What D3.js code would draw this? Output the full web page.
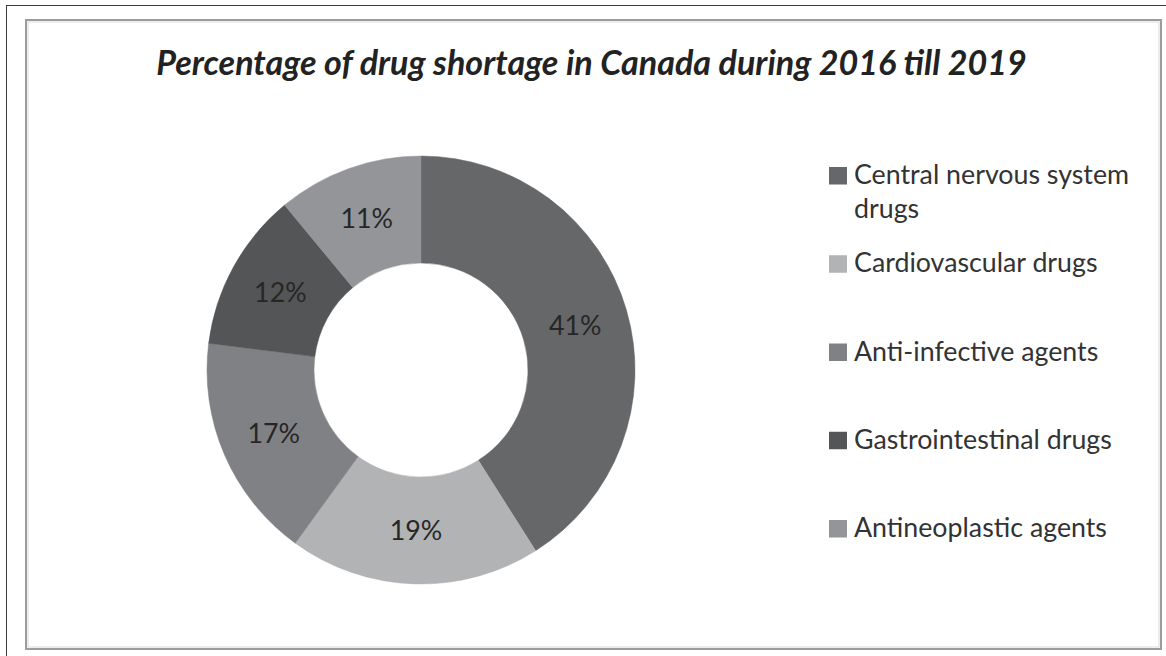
<!DOCTYPE html>
<html>
<head>
<meta charset="utf-8">
<script src="https://cdn.jsdelivr.net/npm/d3@7"></script>
<style>
  html, body { margin: 0; padding: 0; background: #fff; }
  svg { display: block; }
</style>
</head>
<body>
<svg id="chart" width="1166" height="656"></svg>
<script>
// Drug classes and their share of shortages (percent)
const categories = [
  "Central nervous system drugs",
  "Cardiovascular drugs",
  "Anti-infective agents",
  "Gastrointestinal drugs",
  "Antineoplastic agents"
];
const shares = [41, 19, 17, 12, 11];
const legendLines = [
  ["Central nervous system", "drugs"],
  ["Cardiovascular drugs"],
  ["Anti-infective agents"],
  ["Gastrointestinal drugs"],
  ["Antineoplastic agents"]
];
const sliceColors = ["#666769", "#b2b3b5", "#808184", "#545557", "#939598"];
const titleText = "Percentage of drug shortage in Canada during 2016 till 2019";

const svg = d3.select("#chart");
const FONT = "Lato, 'Open Sans', sans-serif";

// Outer page rules
svg.append("line").attr("x1", 6).attr("y1", 5.5).attr("x2", 1166).attr("y2", 5.5)
  .attr("stroke", "#3c3c3c").attr("stroke-width", 1);
svg.append("line").attr("x1", 6.5).attr("y1", 5).attr("x2", 6.5).attr("y2", 656)
  .attr("stroke", "#3c3c3c").attr("stroke-width", 1);

// Chart frame
svg.append("rect").attr("x", 26).attr("y", 20).attr("width", 1135).attr("height", 629)
  .attr("fill", "#fff").attr("stroke", "#9c9c9c").attr("stroke-width", 2);
svg.append("rect").attr("x", 28).attr("y", 22).attr("width", 1131).attr("height", 625)
  .attr("fill", "none").attr("stroke", "#dadada").attr("stroke-width", 1);

// Fit a text element's font size so its rendered width matches a target
function fitWidth(sel, target, start) {
  let size = start;
  sel.attr("font-size", size);
  for (let i = 0; i < 4; i++) {
    const w = sel.node().getComputedTextLength();
    if (w > 0) size = size * target / w;
    sel.attr("font-size", size);
  }
  return size;
}

// Title
const title = svg.append("text")
  .attr("x", 591.5).attr("y", 75)
  .attr("text-anchor", "middle")
  .attr("font-family", FONT)
  .attr("font-style", "italic")
  .attr("font-weight", 700)
  .attr("fill", "#222")
  .text(titleText);
fitWidth(title, 871, 28);

// Doughnut
const cx = 421, cy = 370, rOuter = 214, rInner = 107;
const pie = d3.pie().sort(null).value(d => d)
  .startAngle(0).endAngle(2 * Math.PI);
const arcs = pie(shares);
const arc = d3.arc().innerRadius(rInner).outerRadius(rOuter);
const labelArc = d3.arc().innerRadius((rInner + rOuter) / 2).outerRadius((rInner + rOuter) / 2);

const g = svg.append("g").attr("transform", `translate(${cx},${cy})`);
g.selectAll("path.slice")
  .data(arcs)
  .join("path")
  .attr("class", "slice")
  .attr("d", arc)
  .attr("fill", (d, i) => sliceColors[i])
  .attr("stroke", (d, i) => sliceColors[i])
  .attr("stroke-width", 0.5);

// Measure a size for legend / label text from the first legend line
const probe = svg.append("text").attr("font-family", FONT).text(legendLines[0][0]);
const bodySize = fitWidth(probe, 275, 22);
probe.remove();

g.selectAll("text.pct")
  .data(arcs)
  .join("text")
  .attr("class", "pct")
  .attr("transform", d => `translate(${labelArc.centroid(d)})`)
  .attr("text-anchor", "middle")
  .attr("dy", "0.35em")
  .attr("font-family", FONT)
  .attr("font-size", bodySize)
  .attr("fill", "#262626")
  .text(d => d.data + "%");

// Legend
const legendY = d3.scaleLinear().domain([0, 4]).range([184, 537]);
const legend = svg.append("g");
const items = legend.selectAll("g.item")
  .data(categories)
  .join("g")
  .attr("class", "item")
  .attr("transform", (d, i) => `translate(0,${legendY(i)})`);
items.append("rect")
  .attr("x", 829).attr("y", -17).attr("width", 18).attr("height", 17.5)
  .attr("fill", (d, i) => sliceColors[i]);
items.each(function (d, i) {
  const t = d3.select(this).append("text")
    .attr("x", 854).attr("y", 0)
    .attr("font-family", FONT)
    .attr("font-size", bodySize)
    .attr("fill", "#333");
  legendLines[i].forEach((line, j) => {
    t.append("tspan").attr("x", 854).attr("y", j * 34).text(line);
  });
});
</script>
</body>
</html>
